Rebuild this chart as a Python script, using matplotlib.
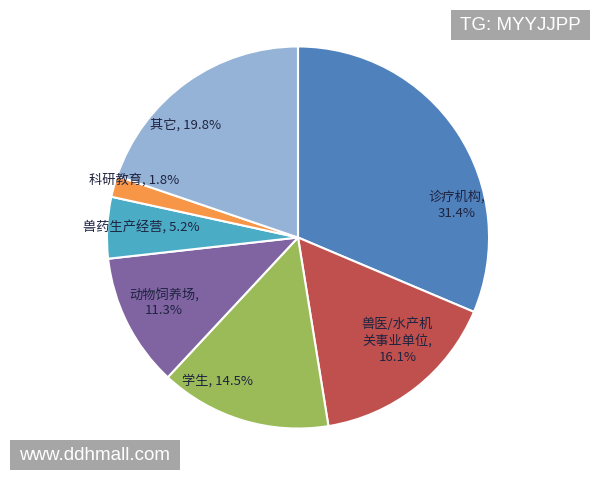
import matplotlib
matplotlib.use("Agg")
import matplotlib.pyplot as plt
from matplotlib.patches import Rectangle

plt.rcParams['font.family'] = ['Noto Sans CJK SC', 'DejaVu Sans']

# data
categories = ['诊疗机构', '兽医/水产机\n关事业单位', '学生', '动物饲养场',
              '兽药生产经营', '科研教育', '其它']
shares = [31.4, 16.1, 14.5, 11.3, 5.2, 1.8, 19.8]
label_fmt = ['{},\n{}%', '{},\n{}%', '{}, {}%', '{},\n{}%', '{}, {}%', '{}, {}%', '{}, {}%']

colors = ['#4F81BD', '#C0504D', '#9BBB59', '#8064A2', '#4BACC6', '#F79646', '#95B3D7']
# label centres in axes units (pie radius = 1)
label_pos = [(0.83, 0.17), (0.52, -0.54), (-0.42, -0.75), (-0.70, -0.34),
             (-0.82, 0.05), (-0.86, 0.30), (-0.59, 0.59)]

W, H = 600, 480
fig = plt.figure(figsize=(6, 4.8), dpi=100)
cx, cy, r = 298, 237.5, 192
ax = fig.add_axes([(cx - r) / W, (H - cy - r) / H, 2 * r / W, 2 * r / H])
ax.pie(shares, colors=colors, startangle=90, counterclock=False, radius=1,
       wedgeprops=dict(edgecolor='white', linewidth=1.5))
ax.set_xlim(-1.005, 1.005)
ax.set_ylim(-1.005, 1.005)
ax.set_aspect('equal')
ax.axis('off')

for name, val, fmt, (x, y) in zip(categories, shares, label_fmt, label_pos):
    ax.text(x, y, fmt.format(name, val), ha='center', va='center',
            fontsize=9.5, color='#1F2340', linespacing=1.3)

# watermark boxes
def badge(x0, y0, x1, y1, text):
    fig.patches.append(Rectangle((x0 / W, 1 - y1 / H), (x1 - x0) / W, (y1 - y0) / H,
                                 transform=fig.transFigure, facecolor='#A6A6A6',
                                 edgecolor='none'))
    fig.text((x0 + x1) / 2 / W, 1 - (y0 + y1) / 2 / H, text, ha='center', va='center',
             fontsize=13.5, color='white', family='Liberation Sans')

badge(451, 10, 590, 40, 'TG: MYYJJPP')
badge(10, 440, 180, 470, 'www.ddhmall.com')

fig.savefig('out.png', dpi=100)
